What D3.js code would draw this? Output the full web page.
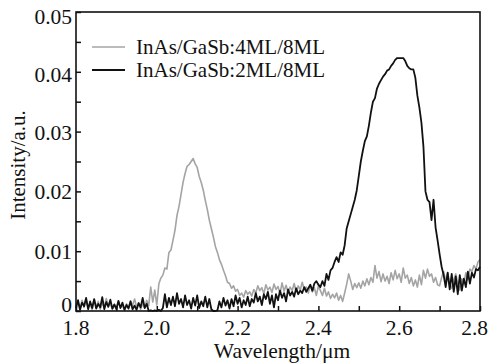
<!DOCTYPE html>
<html><head><meta charset="utf-8">
<script src="https://cdn.jsdelivr.net/npm/d3@7"></script>
<style>body{margin:0;background:#fff;}</style>
</head><body><svg id="c" width="489" height="363"></svg>
<script>
const wlStart = 1.8, wlStep = 0.005;
const xTicks = [1.8, 2.0, 2.2, 2.4, 2.6, 2.8];
const xTickLabels = ["1.8", "2.0", "2.2", "2.4", "2.6", "2.8"];
const yTicks = [0, 0.01, 0.02, 0.03, 0.04, 0.05];
const yTickLabels = ["0", "0.01", "0.02", "0.03", "0.04", "0.05"];
const seriesNames = ["InAs/GaSb:4ML/8ML", "InAs/GaSb:2ML/8ML"];
// values in 1e-3 a.u.
const gray4ML = [
0.8,1.5,0.3,1.8,0.6,2.0,0.4,1.2,0.2,1.9,0.7,1.6,0.3,1.4,0.5,2.1,0.8,1.3,0.2,1.0,
0.4,1.5,0.6,0.9,0.2,1.2,0.5,1.7,0.9,2.0,0.6,1.4,0.3,1.2,0.6,1.8,0.9,4.0,1.5,3.5,
1.0,4.5,5.5,6.0,7.2,7.0,9.8,10.2,11.8,13.5,16.0,17.5,19.5,21.5,23.0,24.2,24.5,25.0,25.5,24.6,
24.0,22.5,21.5,20.2,18.5,17.0,15.2,13.8,12.4,10.8,9.8,8.6,7.8,6.8,5.9,4.8,4.6,3.8,4.2,3.3,
3.6,2.6,3.0,2.3,3.4,2.8,3.2,2.5,3.6,3.0,4.2,3.4,3.9,2.9,4.4,3.5,4.0,3.1,4.5,3.6,
4.1,2.9,4.7,3.3,4.3,3.0,4.0,3.4,4.6,3.2,4.2,3.5,4.8,3.6,4.0,3.0,4.4,3.2,3.9,2.6,
4.2,3.4,2.6,3.8,2.5,3.2,2.1,2.8,2.2,3.0,1.8,2.6,1.6,3.0,4.5,6.2,5.0,3.6,4.6,3.9,
4.7,3.8,5.0,4.2,5.4,4.4,5.6,4.8,7.6,5.5,6.6,4.9,6.2,5.0,5.8,4.6,6.4,5.2,6.8,5.4,
6.2,4.8,7.2,5.5,6.0,4.6,5.6,4.2,5.2,4.0,6.0,4.4,6.8,5.5,7.0,5.8,6.2,4.8,5.6,4.4,
4.2,5.6,6.6,5.0,6.4,4.4,3.8,5.2,6.2,4.6,3.5,5.4,4.6,6.4,5.2,7.0,6.6,7.6,7.0,8.2,
8.6];
const black2ML = [
0.5,1.8,0.2,1.4,0.8,2.2,0.3,1.6,0.5,2.0,0.4,1.2,0.6,2.3,0.3,1.5,0.7,1.9,0.4,1.1,
0.3,1.7,0.5,1.4,0.2,1.0,0.4,1.6,0.3,0.9,0.2,1.3,0.6,2.2,0.5,1.2,0.0,0.1,0.0,0.1,
0.0,0.2,0.0,0.5,2.8,0.6,2.2,1.0,2.4,0.8,3.0,1.2,2.0,0.6,2.6,1.0,1.8,0.4,2.2,0.9,
2.6,0.5,1.6,0.8,2.4,0.6,2.0,0.3,0.0,0.0,0.1,1.6,0.6,2.2,0.9,1.8,0.4,2.0,0.8,2.6,
1.2,2.2,0.6,1.8,1.0,2.4,0.8,2.0,1.4,3.0,1.6,2.4,1.0,2.8,2.0,3.2,1.2,2.6,0.6,2.8,
1.8,3.4,2.2,3.0,1.6,3.6,2.6,3.2,2.4,3.8,2.8,3.4,3.0,4.0,3.2,3.8,4.4,3.4,4.6,5.0,
4.4,4.0,5.0,4.2,6.2,5.2,6.8,7.2,8.2,9.0,8.2,9.8,9.4,11.0,13.8,15.0,16.2,17.4,18.6,20.2,
22.6,25.0,26.8,28.4,29.2,31.0,33.2,35.0,35.6,37.2,38.0,38.6,39.2,39.6,40.2,40.4,41.0,41.4,42.0,42.3,
42.3,42.3,42.3,41.8,41.0,40.6,40.4,40.4,39.0,36.0,34.0,31.5,27.5,20.0,18.6,18.2,15.2,18.6,14.0,11.8,
9.5,7.4,6.0,4.0,6.4,3.6,6.2,3.2,5.8,2.8,6.0,3.4,5.4,4.0,6.6,4.6,6.4,5.6,7.0,6.8,
7.4];

const svg = d3.select("#c");
const L = 76, R = 480, T = 12, B = 311;
const FONT = '"Liberation Serif","Times New Roman",serif';
const x = d3.scaleLinear().domain([1.8, 2.8]).range([L, R]);
const y = d3.scaleLinear().domain([0, 0.05]).range([B, T]);

const toPts = arr => arr.map((v, i) => [wlStart + i * wlStep, v * 1e-3]);
const line = d3.line().x(d => x(d[0])).y(d => y(d[1]));

svg.append("path").datum(toPts(gray4ML)).attr("d", line)
  .attr("fill", "none").attr("stroke", "#a4a4a4").attr("stroke-width", 1.6).attr("stroke-linejoin", "round");
svg.append("path").datum(toPts(black2ML)).attr("d", line)
  .attr("fill", "none").attr("stroke", "#111").attr("stroke-width", 1.8).attr("stroke-linejoin", "round");

// frame
svg.append("rect").attr("x", L).attr("y", T).attr("width", R - L).attr("height", B - T)
  .attr("fill", "none").attr("stroke", "#111").attr("stroke-width", 1.6);

// x axis ticks (inward, major + minor)
const xMinor = [1.9, 2.1, 2.3, 2.5, 2.7];
const gx = svg.append("g").attr("transform", `translate(0,${B})`)
  .call(d3.axisBottom(x).tickValues(xTicks.concat(xMinor)).tickSize(-5).tickFormat(""));
gx.select(".domain").remove();
gx.selectAll(".tick line").attr("stroke", "#111").attr("stroke-width", 1.5);
svg.append("g").selectAll("text").data(xTicks).join("text")
  .attr("x", (d, i) => i === xTicks.length - 1 ? 488 : x(d))
  .attr("y", 335)
  .attr("text-anchor", (d, i) => i === xTicks.length - 1 ? "end" : "middle")
  .style("font-family", FONT).style("font-size", "21.5px").attr("fill", "#111")
  .text((d, i) => xTickLabels[i]);

// y axis ticks
const yMinor = [0.005, 0.015, 0.025, 0.035, 0.045];
const gy = svg.append("g").attr("transform", `translate(${L},0)`)
  .call(d3.axisLeft(y).tickValues(yTicks.concat(yMinor)).tickSize(-5).tickFormat(""));
gy.select(".domain").remove();
gy.selectAll(".tick line").attr("stroke", "#111").attr("stroke-width", 1.5);
const yLabelShift = [1, 8, 8, 8, 10, 12];
svg.append("g").selectAll("text").data(yTicks).join("text")
  .attr("x", 72).attr("y", (d, i) => y(d) + yLabelShift[i]).attr("text-anchor", "end")
  .style("font-family", FONT).style("font-size", "21.5px").attr("fill", "#111")
  .text((d, i) => yTickLabels[i]);

// axis titles
svg.append("text").attr("x", 282).attr("y", 358).attr("text-anchor", "middle")
  .style("font-family", FONT).style("font-size", "21.5px").attr("fill", "#111").text("Wavelength/\u03bcm");
svg.append("text").attr("transform", `translate(25,${165}) rotate(-90)`).attr("text-anchor", "middle")
  .style("font-family", FONT).style("font-size", "21px").attr("fill", "#111").text("Intensity/a.u.");

// legend
const legColors = ["#a4a4a4", "#111"];
const lg = svg.append("g");
seriesNames.forEach((n, i) => {
  const yy = 47 + i * 23;
  lg.append("line").attr("x1", 92).attr("x2", 125).attr("y1", yy).attr("y2", yy)
    .attr("stroke", legColors[i]).attr("stroke-width", i ? 1.8 : 1.6);
  lg.append("text").attr("x", 136).attr("y", yy + 7)
    .style("font-family", FONT).style("font-size", "21px").attr("fill", "#111").text(n);
});
</script></body></html>
